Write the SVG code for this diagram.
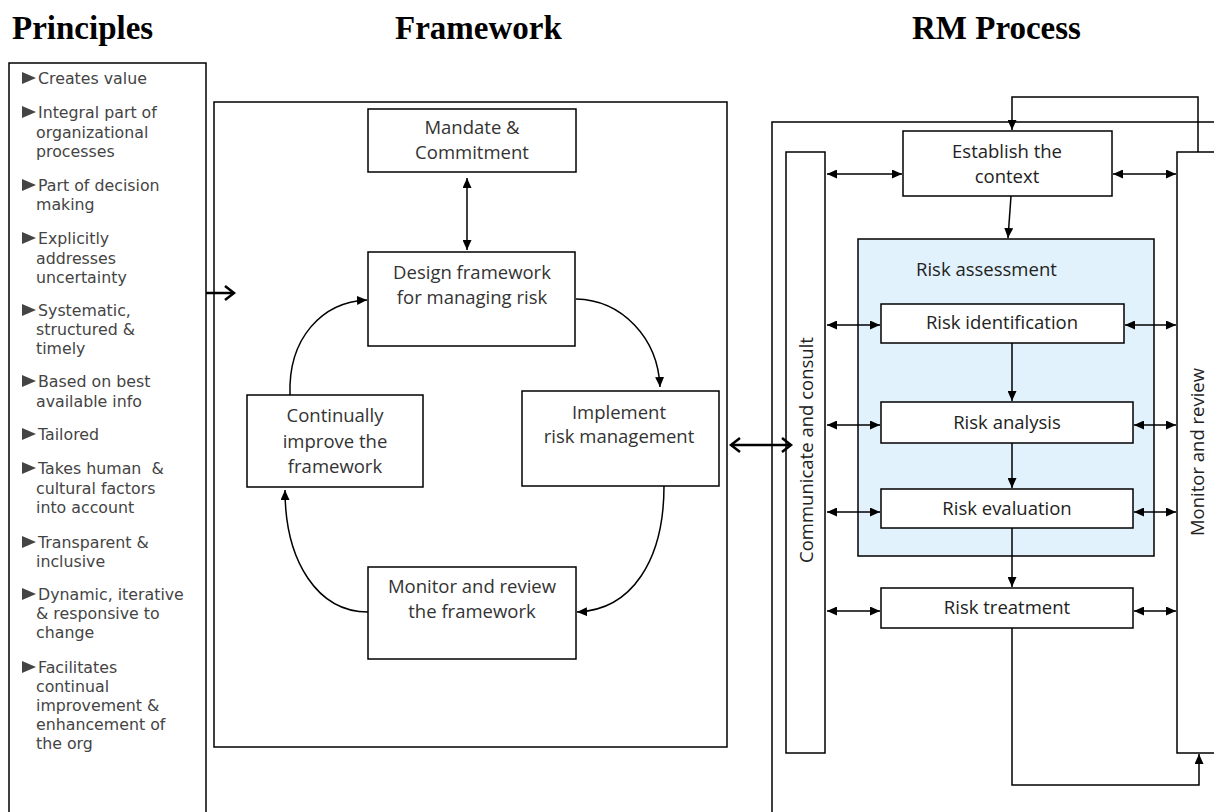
<svg xmlns="http://www.w3.org/2000/svg" width="1214" height="812" viewBox="0 0 1214 812">
<style>
.box{fill:#fff;stroke:#000;stroke-width:1.5}
.frame{fill:none;stroke:#000;stroke-width:1.5}
.title{font-family:"Liberation Serif",serif;font-weight:bold;font-size:33px;fill:#000}
.pr{font-family:"DejaVu Sans","Open Sans",sans-serif;font-size:15.8px;fill:#444}
.fw{font-family:"Open Sans","Noto Sans",sans-serif;font-size:18.5px;fill:#333;text-anchor:middle}
.rm{font-family:"Open Sans","Noto Sans",sans-serif;font-size:18.5px;fill:#222;text-anchor:middle}
.ln{fill:none;stroke:#000;stroke-width:1.5}
.thick{fill:none;stroke:#000;stroke-width:2.5}
.bul{fill:#444}
</style>
<defs>
<marker id="ah" markerUnits="userSpaceOnUse" markerWidth="10" markerHeight="9" refX="10" refY="4.5" orient="auto-start-reverse">
<path d="M0,0 L10,4.5 L0,9 z" fill="#000"/>
</marker>
<marker id="chev" markerUnits="userSpaceOnUse" markerWidth="14" markerHeight="18" refX="11" refY="9" orient="auto-start-reverse">
<path d="M2,2 L11,9 L2,16" fill="none" stroke="#000" stroke-width="2.5"/>
</marker>
</defs>
<rect width="1214" height="812" fill="#fff"/>

<g id="titles">
<text class="title" x="12" y="39">Principles</text>
<text class="title" x="395" y="39">Framework</text>
<text class="title" x="912" y="39">RM Process</text>
</g>

<g id="principles">
<path class="frame" d="M9,812 V63 H206 V812"/>
<g class="bul">
<polygon points="22,72 22,84 36,78"/>
<polygon points="22,106 22,118 36,112"/>
<polygon points="22,179 22,191 36,185"/>
<polygon points="22,232 22,244 36,238"/>
<polygon points="22,304 22,316 36,310"/>
<polygon points="22,375 22,387 36,381"/>
<polygon points="22,428 22,440 36,434"/>
<polygon points="22,462 22,474 36,468"/>
<polygon points="22,536 22,548 36,542"/>
<polygon points="22,588 22,600 36,594"/>
<polygon points="22,661 22,673 36,667"/>
</g>
<text class="pr" x="38" y="84">Creates value</text>
<text class="pr" y="118"><tspan x="38">Integral part of</tspan><tspan x="36" dy="19.5">organizational</tspan><tspan x="36" dy="19.5">processes</tspan></text>
<text class="pr" y="191"><tspan x="38">Part of decision</tspan><tspan x="36" dy="19">making</tspan></text>
<text class="pr" y="244"><tspan x="38">Explicitly</tspan><tspan x="36" dy="19.5">addresses</tspan><tspan x="36" dy="19.5">uncertainty</tspan></text>
<text class="pr" y="316"><tspan x="38">Systematic,</tspan><tspan x="36" dy="19">structured &amp;</tspan><tspan x="36" dy="19">timely</tspan></text>
<text class="pr" y="387"><tspan x="38">Based on best</tspan><tspan x="36" dy="20">available info</tspan></text>
<text class="pr" x="38" y="440">Tailored</text>
<text class="pr" y="474" xml:space="preserve"><tspan x="38">Takes human  &amp;</tspan><tspan x="36" dy="19.5">cultural factors</tspan><tspan x="36" dy="19.5">into account</tspan></text>
<text class="pr" y="548"><tspan x="38">Transparent &amp;</tspan><tspan x="36" dy="19">inclusive</tspan></text>
<text class="pr" y="600"><tspan x="38">Dynamic, iterative</tspan><tspan x="36" dy="19">&amp; responsive to</tspan><tspan x="36" dy="19">change</tspan></text>
<text class="pr" y="673"><tspan x="38">Facilitates</tspan><tspan x="36" dy="19">continual</tspan><tspan x="36" dy="19">improvement &amp;</tspan><tspan x="36" dy="19">enhancement of</tspan><tspan x="36" dy="19">the org</tspan></text>
</g>

<g id="framework">
<rect class="frame" x="214" y="102" width="513" height="645"/>
</g>
<g id="mandate">
<rect class="box" x="368" y="109" width="208" height="63"/>
<text class="fw" x="472" y="134">Mandate &amp;</text>
<text class="fw" x="472" y="159">Commitment</text>
</g>
<g id="design">
<rect class="box" x="368" y="252" width="207" height="94"/>
<text class="fw" x="472" y="279">Design framework</text>
<text class="fw" x="472" y="304">for managing risk</text>
</g>
<g id="implement">
<rect class="box" x="522" y="391" width="197" height="95"/>
<text class="fw" x="619" y="419">Implement</text>
<text class="fw" x="619" y="443">risk management</text>
</g>
<g id="continually">
<rect class="box" x="247" y="395" width="176" height="92"/>
<text class="fw" x="335" y="422">Continually</text>
<text class="fw" x="335" y="448">improve the</text>
<text class="fw" x="335" y="473">framework</text>
</g>
<g id="monitor-fw">
<rect class="box" x="368" y="567" width="208" height="92"/>
<text class="fw" x="472" y="593">Monitor and review</text>
<text class="fw" x="472" y="618">the framework</text>
</g>

<g id="rm-frame">
<path class="frame" d="M1214,122 H772 V812"/>
</g>
<g id="communicate">
<rect class="box" x="786" y="152" width="39" height="601"/>
<text class="rm" transform="translate(813,450) rotate(-90)">Communicate and consult</text>
</g>
<g id="monitor-rm">
<path class="box" d="M1214,152 H1177 V753 H1214"/>
<text class="rm" transform="translate(1204,452) rotate(-90)">Monitor and review</text>
</g>
<g id="context">
<rect class="box" x="903" y="131" width="209" height="65"/>
<text class="rm" x="1007" y="158">Establish the</text>
<text class="rm" x="1007" y="183">context</text>
</g>
<g id="assessment">
<rect x="858" y="239" width="296" height="317" fill="#e1f2fd" stroke="#000" stroke-width="1.5"/>
<text class="rm" x="916" y="276" style="text-anchor:start">Risk assessment</text>
</g>
<g id="identification">
<rect class="box" x="881" y="304" width="243" height="39"/>
<text class="rm" x="1002" y="329">Risk identification</text>
</g>
<g id="analysis">
<rect class="box" x="881" y="402" width="252" height="41"/>
<text class="rm" x="1007" y="429">Risk analysis</text>
</g>
<g id="evaluation">
<rect class="box" x="881" y="489" width="252" height="39"/>
<text class="rm" x="1007" y="515">Risk evaluation</text>
</g>
<g id="treatment">
<rect class="box" x="881" y="588" width="252" height="40"/>
<text class="rm" x="1007" y="614">Risk treatment</text>
</g>

<g id="connectors">
<line class="thick" x1="206" y1="293" x2="234" y2="293" marker-end="url(#chev)"/>
<line class="thick" x1="731" y1="445" x2="791" y2="445" marker-start="url(#chev)" marker-end="url(#chev)"/>
<line class="ln" x1="467" y1="178" x2="467" y2="250" marker-start="url(#ah)" marker-end="url(#ah)"/>
<path class="ln" d="M576,299 C622,300 658,338 660,387" marker-end="url(#ah)"/>
<path class="ln" d="M664,486 C664,560 632,610 577,612" marker-end="url(#ah)"/>
<path class="ln" d="M368,612 C318,612 285,562 285,490" marker-end="url(#ah)"/>
<path class="ln" d="M290,395 C288,338 322,302 367,300" marker-end="url(#ah)"/>

<path class="ln" d="M1198,152 V97 H1012 V130" marker-end="url(#ah)"/>
<line class="ln" x1="1011" y1="196" x2="1008" y2="238" marker-end="url(#ah)"/>
<line class="ln" x1="1012" y1="343" x2="1012" y2="401" marker-end="url(#ah)"/>
<line class="ln" x1="1012" y1="443" x2="1012" y2="488" marker-end="url(#ah)"/>
<line class="ln" x1="1012" y1="528" x2="1012" y2="587" marker-end="url(#ah)"/>
<path class="ln" d="M1012,628 V785 H1199 V754" marker-end="url(#ah)"/>

<line class="ln" x1="827" y1="174" x2="902" y2="174" marker-start="url(#ah)" marker-end="url(#ah)"/>
<line class="ln" x1="827" y1="325" x2="880" y2="325" marker-start="url(#ah)" marker-end="url(#ah)"/>
<line class="ln" x1="827" y1="425" x2="880" y2="425" marker-start="url(#ah)" marker-end="url(#ah)"/>
<line class="ln" x1="827" y1="512" x2="880" y2="512" marker-start="url(#ah)" marker-end="url(#ah)"/>
<line class="ln" x1="827" y1="611" x2="880" y2="611" marker-start="url(#ah)" marker-end="url(#ah)"/>

<line class="ln" x1="1113" y1="174" x2="1176" y2="174" marker-start="url(#ah)" marker-end="url(#ah)"/>
<line class="ln" x1="1125" y1="325" x2="1176" y2="325" marker-start="url(#ah)" marker-end="url(#ah)"/>
<line class="ln" x1="1134" y1="425" x2="1176" y2="425" marker-start="url(#ah)" marker-end="url(#ah)"/>
<line class="ln" x1="1134" y1="512" x2="1176" y2="512" marker-start="url(#ah)" marker-end="url(#ah)"/>
<line class="ln" x1="1134" y1="611" x2="1176" y2="611" marker-start="url(#ah)" marker-end="url(#ah)"/>
</g>
</svg>
